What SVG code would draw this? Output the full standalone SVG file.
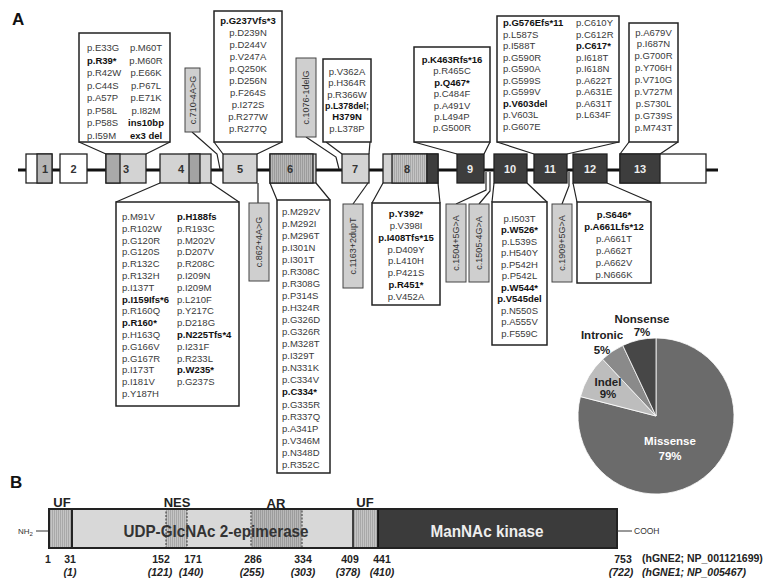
<svg xmlns="http://www.w3.org/2000/svg" width="771" height="585" viewBox="0 0 771 585">
<defs>
<pattern id="hatch" width="2" height="4" patternUnits="userSpaceOnUse"><rect width="2" height="4" fill="#c4c4c4"/><rect width="1" height="4" fill="#a8a8a8"/></pattern>
<pattern id="hatch2" width="2" height="4" patternUnits="userSpaceOnUse"><rect width="2" height="4" fill="#b8b8b8"/><rect width="1" height="4" fill="#9c9c9c"/></pattern>
</defs>
<style>
text{font-family:"Liberation Sans",Arial,sans-serif}
.t{font-size:9.5px;fill:#3a3a3a}
.b{font-size:9.5px;fill:#111;font-weight:bold}
.m{text-anchor:middle}
.box{fill:#fff;stroke:#222;stroke-width:1.5}
.lab{fill:#cfcfcf;stroke:#444;stroke-width:1}
.lt{font-size:9px;fill:#333;text-anchor:middle}
.con{fill:none;stroke:#222;stroke-width:1.2}
.ex{stroke:#222;stroke-width:1.3}
.en{font-size:11px;font-weight:bold;text-anchor:middle;fill:#333}
.enw{fill:#eee}
.pl{font-size:11.5px;font-weight:bold;text-anchor:middle;fill:#222}
.num{font-size:10.5px;font-weight:bold;fill:#222;text-anchor:middle}
.it{font-style:italic}
.lbl{font-size:13px;font-weight:bold;fill:#222;text-anchor:middle}
</style>
<rect width="771" height="585" fill="#fff"/>
<text x="12" y="25" font-size="17" font-weight="bold" fill="#111">A</text>
<text x="10" y="488" font-size="17" font-weight="bold" fill="#111">B</text>

<g id="gene">
<line x1="18" y1="170" x2="718" y2="170" stroke="#111" stroke-width="3"/>
<rect class="ex" x="26" y="154" width="26" height="29" fill="#fff"/>
<rect class="ex" x="37" y="154" width="15" height="29" fill="#b5b5b5"/>
<text class="en" x="45" y="172.5">1</text>
<rect class="ex" x="60" y="154" width="27" height="29" fill="#fff"/>
<text class="en" x="73.5" y="172.5">2</text>
<rect class="ex" x="106" y="154" width="40" height="29" fill="#d3d3d3"/>
<rect class="ex" x="106" y="154" width="14" height="29" fill="#a9a9a9"/>
<text class="en" x="126" y="172.5">3</text>
<rect class="ex" x="160" y="154" width="51" height="29" fill="#d3d3d3"/>
<rect class="ex" x="189" y="154" width="11" height="29" fill="#a3a3a3"/>
<text class="en" x="181" y="172.5">4</text>
<rect class="ex" x="223" y="154" width="34" height="29" fill="#d3d3d3"/>
<text class="en" x="240" y="172.5">5</text>
<rect class="ex" x="270" y="154" width="46" height="29" fill="#d3d3d3"/>
<rect class="ex" x="270" y="154" width="43" height="29" fill="url(#hatch2)"/>
<text class="en" x="290" y="172.5">6</text>
<rect class="ex" x="342" y="154" width="27" height="29" fill="#d3d3d3"/>
<text class="en" x="355" y="172.5">7</text>
<rect class="ex" x="383" y="154" width="55" height="29" fill="#d3d3d3"/>
<rect class="ex" x="392" y="154" width="35" height="29" fill="url(#hatch)"/>
<rect class="ex" x="427" y="154" width="11" height="29" fill="#3d3d3d"/>
<text class="en" x="407" y="172.5">8</text>
<rect class="ex" x="457" y="154" width="27" height="29" fill="#3d3d3d"/>
<text class="en enw" x="470" y="172.5">9</text>
<rect class="ex" x="494" y="154" width="33" height="29" fill="#3d3d3d"/>
<text class="en enw" x="510" y="172.5">10</text>
<rect class="ex" x="534" y="154" width="33" height="29" fill="#3d3d3d"/>
<text class="en enw" x="550" y="172.5">11</text>
<rect class="ex" x="573" y="154" width="34" height="29" fill="#3d3d3d"/>
<text class="en enw" x="590" y="172.5">12</text>
<rect class="ex" x="620" y="154" width="86" height="29" fill="#fff"/>
<rect class="ex" x="620" y="154" width="40" height="29" fill="#3d3d3d"/>
<text class="en enw" x="640" y="172.5">13</text>
</g>

<g id="connectors">
<path class="con" d="M79,142 L106,154 M170,142 L146,154"/>
<path class="con" d="M214,142 L223,154 M282,142 L257,154"/>
<path class="con" d="M326,142 L342,154 M370,142 L369,154"/>
<path class="con" d="M414,142 L457,154 M490,142 L484,154"/>
<path class="con" d="M497,142 L534,154 M619,142 L567,154"/>
<path class="con" d="M629,142 L620,154 M678,142 L660,154"/>
<polyline class="con" points="192,132 217,154 220,169"/>
<polyline class="con" points="306,137 336,157 339,169"/>
<path class="con" d="M116,202 L160,183 M239,202 L211,183"/>
<path class="con" d="M258,183 L258,203"/>
<path class="con" d="M277,200 L270,183 M330,200 L316,183"/>
<path class="con" d="M353,204 L368,183"/>
<path class="con" d="M372,203 L383,183 M440,203 L438,183"/>
<polyline class="con" points="456,204 486,190 486,172"/>
<polyline class="con" points="479,204 490,191 490,172"/>
<path class="con" d="M492,202 L494,183 M547,202 L527,183"/>
<polyline class="con" points="562,204 569,186 569,172"/>
<path class="con" d="M577,202 L573,183 M651,202 L607,183"/>
</g>

<g id="box-ex3">
<rect class="box" x="79" y="33" width="91" height="109"/>
<text class="t" x="87" y="51">p.E33G</text>
<text class="b" x="87" y="63.5">p.R39*</text>
<text class="t" x="87" y="76">p.R42W</text>
<text class="t" x="87" y="88.5">p.C44S</text>
<text class="t" x="87" y="101">p.A57P</text>
<text class="t" x="87" y="113.5">p.P58L</text>
<text class="t" x="87" y="126">p.P58S</text>
<text class="t" x="87" y="138.5">p.I59M</text>
<text class="t m" x="146" y="51">p.M60T</text>
<text class="t m" x="146" y="63.5">p.M60R</text>
<text class="t m" x="146" y="76">p.E66K</text>
<text class="t m" x="146" y="88.5">p.P67L</text>
<text class="t m" x="146" y="101">p.E71K</text>
<text class="t m" x="146" y="113.5">p.I82M</text>
<text class="b m" x="146" y="126">ins10bp</text>
<text class="b m" x="146" y="138.5">ex3 del</text>
</g>

<g id="label-c710">
<rect class="lab" x="185" y="68" width="15" height="64"/>
<text class="lt" transform="translate(192.5,100) rotate(-90)" y="3">c.710-4A&gt;G</text>
</g>

<g id="box-ex5">
<rect class="box" x="214" y="11" width="68" height="131"/>
<text class="b m" x="248" y="23.5">p.G237Vfs*3</text>
<text class="t m" x="248" y="35.5">p.D239N</text>
<text class="t m" x="248" y="47.5">p.D244V</text>
<text class="t m" x="248" y="59.5">p.V247A</text>
<text class="t m" x="248" y="71.5">p.Q250K</text>
<text class="t m" x="248" y="83.5">p.D256N</text>
<text class="t m" x="248" y="95.5">p.F264S</text>
<text class="t m" x="248" y="107.5">p.I272S</text>
<text class="t m" x="248" y="119.5">p.R277W</text>
<text class="t m" x="248" y="131.5">p.R277Q</text>
</g>

<g id="label-c1076">
<rect class="lab" x="296" y="58" width="20" height="79"/>
<text class="lt" transform="translate(306,97.5) rotate(-90)" y="3">c.1076-1delG</text>
</g>

<g id="box-ex7">
<rect class="box" x="323" y="59" width="48" height="83"/>
<text class="t m" x="347" y="74.5">p.V362A</text>
<text class="t m" x="347" y="86">p.H364R</text>
<text class="t m" x="347" y="97.5">p.R366W</text>
<text class="b m" x="347" y="109" textLength="44" lengthAdjust="spacingAndGlyphs">p.L378del;</text>
<text class="b m" x="347" y="120">H379N</text>
<text class="t m" x="347" y="131.5">p.L378P</text>
</g>

<g id="box-ex9">
<rect class="box" x="414" y="47" width="76" height="95"/>
<text class="b m" x="452" y="63">p.K463Rfs*16</text>
<text class="t m" x="452" y="74.4">p.R465C</text>
<text class="b m" x="452" y="85.8">p.Q467*</text>
<text class="t m" x="452" y="97.2">p.C484F</text>
<text class="t m" x="452" y="108.6">p.A491V</text>
<text class="t m" x="452" y="120">p.L494P</text>
<text class="t m" x="452" y="131.4">p.G500R</text>
</g>

<g id="box-ex11">
<rect class="box" x="497" y="16" width="122" height="126"/>
<text class="b" x="503" y="26">p.G576Efs*11</text>
<text class="t" x="503" y="37.5">p.L587S</text>
<text class="t" x="503" y="49">p.I588T</text>
<text class="t" x="503" y="60.5">p.G590R</text>
<text class="t" x="503" y="72">p.G590A</text>
<text class="t" x="503" y="83.5">p.G599S</text>
<text class="t" x="503" y="95">p.G599V</text>
<text class="b" x="503" y="106.5">p.V603del</text>
<text class="t" x="503" y="118">p.V603L</text>
<text class="t" x="503" y="129.5">p.G607E</text>
<text class="t" x="576" y="26">p.C610Y</text>
<text class="t" x="576" y="37.5">p.C612R</text>
<text class="b" x="576" y="49">p.C617*</text>
<text class="t" x="576" y="60.5">p.I618T</text>
<text class="t" x="576" y="72">p.I618N</text>
<text class="t" x="576" y="83.5">p.A622T</text>
<text class="t" x="576" y="95">p.A631E</text>
<text class="t" x="576" y="106.5">p.A631T</text>
<text class="t" x="576" y="118">p.L634F</text>
</g>

<g id="box-ex13">
<rect class="box" x="629" y="23" width="49" height="119"/>
<text class="t m" x="653.5" y="35.5">p.A679V</text>
<text class="t m" x="653.5" y="47.4">p.I687N</text>
<text class="t m" x="653.5" y="59.3">p.G700R</text>
<text class="t m" x="653.5" y="71.2">p.Y706H</text>
<text class="t m" x="653.5" y="83.1">p.V710G</text>
<text class="t m" x="653.5" y="95">p.V727M</text>
<text class="t m" x="653.5" y="106.9">p.S730L</text>
<text class="t m" x="653.5" y="118.8">p.G739S</text>
<text class="t m" x="653.5" y="130.7">p.M743T</text>
</g>

<g id="box-ex4">
<rect class="box" x="116" y="202" width="123" height="204"/>
<text class="t" x="122" y="220">p.M91V</text>
<text class="t" x="122" y="231.8">p.R102W</text>
<text class="t" x="122" y="243.6">p.G120R</text>
<text class="t" x="122" y="255.4">p.G120S</text>
<text class="t" x="122" y="267.2">p.R132C</text>
<text class="t" x="122" y="279">p.R132H</text>
<text class="t" x="122" y="290.8">p.I137T</text>
<text class="b" x="122" y="302.6">p.I159Ifs*6</text>
<text class="t" x="122" y="314.4">p.R160Q</text>
<text class="b" x="122" y="326.2">p.R160*</text>
<text class="t" x="122" y="338">p.H163Q</text>
<text class="t" x="122" y="349.8">p.G166V</text>
<text class="t" x="122" y="361.6">p.G167R</text>
<text class="t" x="122" y="373.4">p.I173T</text>
<text class="t" x="122" y="385.2">p.I181V</text>
<text class="t" x="122" y="397">p.Y187H</text>
<text class="b" x="177" y="220">p.H188fs</text>
<text class="t" x="177" y="231.8">p.R193C</text>
<text class="t" x="177" y="243.6">p.M202V</text>
<text class="t" x="177" y="255.4">p.D207V</text>
<text class="t" x="177" y="267.2">p.R208C</text>
<text class="t" x="177" y="279">p.I209N</text>
<text class="t" x="177" y="290.8">p.I209M</text>
<text class="t" x="177" y="302.6">p.L210F</text>
<text class="t" x="177" y="314.4">p.Y217C</text>
<text class="t" x="177" y="326.2">p.D218G</text>
<text class="b" x="177" y="338">p.N225Tfs*4</text>
<text class="t" x="177" y="349.8">p.I231F</text>
<text class="t" x="177" y="361.6">p.R233L</text>
<text class="b" x="177" y="373.4">p.W235*</text>
<text class="t" x="177" y="385.2">p.G237S</text>
</g>

<g id="label-c862">
<rect class="lab" x="249" y="203" width="20" height="78"/>
<text class="lt" transform="translate(259,242) rotate(-90)" y="3">c.862+4A&gt;G</text>
</g>

<g id="box-ex6">
<rect class="box" x="277" y="200" width="53" height="273"/>
<text class="t" x="282" y="214.5">p.M292V</text>
<text class="t" x="282" y="226.6">p.M292I</text>
<text class="t" x="282" y="238.6">p.M296T</text>
<text class="t" x="282" y="250.7">p.I301N</text>
<text class="t" x="282" y="262.7">p.I301T</text>
<text class="t" x="282" y="274.8">p.R308C</text>
<text class="t" x="282" y="286.9">p.R308G</text>
<text class="t" x="282" y="298.9">p.P314S</text>
<text class="t" x="282" y="311">p.H324R</text>
<text class="t" x="282" y="323">p.G326D</text>
<text class="t" x="282" y="335.1">p.G326R</text>
<text class="t" x="282" y="347.2">p.M328T</text>
<text class="t" x="282" y="359.2">p.I329T</text>
<text class="t" x="282" y="371.3">p.N331K</text>
<text class="t" x="282" y="383.3">p.C334V</text>
<text class="b" x="282" y="395.4">p.C334*</text>
<text class="t" x="282" y="407.5">p.G335R</text>
<text class="t" x="282" y="419.5">p.R337Q</text>
<text class="t" x="282" y="431.6">p.A341P</text>
<text class="t" x="282" y="443.6">p.V346M</text>
<text class="t" x="282" y="455.7">p.N348D</text>
<text class="t" x="282" y="467.8">p.R352C</text>
</g>

<g id="label-c1163">
<rect class="lab" x="343" y="204" width="20" height="84"/>
<text class="lt" transform="translate(353,246) rotate(-90)" y="3">c.1163+2dupT</text>
</g>

<g id="box-ex8">
<rect class="box" x="372" y="203" width="68" height="102"/>
<text class="b m" x="406" y="216.8">p.Y392*</text>
<text class="t m" x="406" y="228.7">p.V398I</text>
<text class="b m" x="406" y="240.6">p.I408Tfs*15</text>
<text class="t m" x="406" y="252.5">p.D409Y</text>
<text class="t m" x="406" y="264.4">p.L410H</text>
<text class="t m" x="406" y="276.3">p.P421S</text>
<text class="b m" x="406" y="288.2">p.R451*</text>
<text class="t m" x="406" y="300.1">p.V452A</text>
</g>

<g id="label-c1504">
<rect class="lab" x="446" y="204" width="20" height="78"/>
<text class="lt" transform="translate(456,243) rotate(-90)" y="3">c.1504+5G&gt;A</text>
</g>
<g id="label-c1505">
<rect class="lab" x="469" y="204" width="20" height="78"/>
<text class="lt" transform="translate(479,243) rotate(-90)" y="3">c.1505-4G&gt;A</text>
</g>

<g id="box-ex10">
<rect class="box" x="492" y="202" width="55" height="143"/>
<text class="t m" x="519.5" y="221.8">p.I503T</text>
<text class="b m" x="519.5" y="233.3">p.W526*</text>
<text class="t m" x="519.5" y="244.8">p.L539S</text>
<text class="t m" x="519.5" y="256.3">p.H540Y</text>
<text class="t m" x="519.5" y="267.8">p.P542H</text>
<text class="t m" x="519.5" y="279.3">p.P542L</text>
<text class="b m" x="519.5" y="290.8">p.W544*</text>
<text class="b m" x="519.5" y="302.3">p.V545del</text>
<text class="t m" x="519.5" y="313.8">p.N550S</text>
<text class="t m" x="519.5" y="325.3">p.A555V</text>
<text class="t m" x="519.5" y="336.8">p.F559C</text>
</g>

<g id="label-c1909">
<rect class="lab" x="552" y="204" width="20" height="78"/>
<text class="lt" transform="translate(562,243) rotate(-90)" y="3">c.1909+5G&gt;A</text>
</g>

<g id="box-ex12">
<rect class="box" x="577" y="202" width="74" height="81"/>
<text class="b m" x="614" y="217.8">p.S646*</text>
<text class="b m" x="614" y="229.8">p.A661Lfs*12</text>
<text class="t m" x="614" y="241.8">p.A661T</text>
<text class="t m" x="614" y="253.8">p.A662T</text>
<text class="t m" x="614" y="265.8">p.A662V</text>
<text class="t m" x="614" y="277.8">p.N666K</text>
</g>

<g id="pie">
<path d="M656,416 L656,338 A78,78 0 1 1 580.45,396.6 Z" fill="#6b6b6b" stroke="#fff" stroke-width="0.8"/>
<path d="M656,416 L580.45,396.6 A78,78 0 0 1 602.61,359.14 Z" fill="#bdbdbd" stroke="#fff" stroke-width="0.8"/>
<path d="M656,416 L602.61,359.14 A78,78 0 0 1 622.79,345.43 Z" fill="#8a8a8a" stroke="#fff" stroke-width="0.8"/>
<path d="M656,416 L622.79,345.43 A78,78 0 0 1 656,338 Z" fill="#474747" stroke="#fff" stroke-width="0.8"/>
<text class="pl" x="642" y="323">Nonsense</text>
<text class="pl" x="642" y="336">7%</text>
<text class="pl" x="602" y="339">Intronic</text>
<text class="pl" x="602" y="354">5%</text>
<text class="pl" x="608" y="386">Indel</text>
<text class="pl" x="608" y="398">9%</text>
<text class="pl" x="670" y="445" style="fill:#fff">Missense</text>
<text class="pl" x="670" y="460" style="fill:#fff">79%</text>
</g>

<g id="protein">
<line x1="36" y1="531" x2="49" y2="531" stroke="#333" stroke-width="1"/>
<text x="18" y="534" font-size="8" fill="#333">NH<tspan font-size="6" dy="2">2</tspan></text>
<rect x="49" y="509" width="568" height="39" fill="#d8d8d8"/>
<rect x="49" y="509" width="23" height="39" fill="url(#hatch)"/>
<rect x="166" y="509" width="21" height="39" fill="url(#hatch)" stroke="#333" stroke-width="1" stroke-dasharray="2,1.5"/>
<rect x="251" y="509" width="51" height="39" fill="url(#hatch2)" stroke="#333" stroke-width="1" stroke-dasharray="2,1.5"/>
<rect x="353" y="509" width="25" height="39" fill="url(#hatch)"/>
<rect x="378" y="509" width="239" height="39" fill="#3b3b3b"/>
<line x1="72" y1="509" x2="72" y2="548" stroke="#111" stroke-width="1.8"/>
<line x1="353" y1="509" x2="353" y2="548" stroke="#111" stroke-width="1.5"/>
<line x1="378" y1="509" x2="378" y2="548" stroke="#111" stroke-width="1.8"/>
<rect x="49" y="509" width="568" height="39" fill="none" stroke="#222" stroke-width="2"/>
<line x1="617" y1="531" x2="632" y2="531" stroke="#333" stroke-width="1"/>
<text x="634" y="534" font-size="8.5" fill="#333">COOH</text>
<text x="216" y="537" font-size="17" font-weight="bold" fill="#333" text-anchor="middle" textLength="185" lengthAdjust="spacingAndGlyphs">UDP-GlcNAc 2-epimerase</text>
<text x="487" y="537" font-size="16" font-weight="bold" fill="#eee" text-anchor="middle" textLength="113" lengthAdjust="spacingAndGlyphs">ManNAc kinase</text>
<text class="lbl" x="62" y="507">UF</text>
<text class="lbl" x="177" y="507">NES</text>
<text class="lbl" x="276" y="508">AR</text>
<text class="lbl" x="365" y="507">UF</text>
<text class="num" x="48" y="563">1</text>
<text class="num" x="70" y="563">31</text>
<text class="num" x="161" y="563">152</text>
<text class="num" x="193" y="563">171</text>
<text class="num" x="253" y="563">286</text>
<text class="num" x="303" y="563">334</text>
<text class="num" x="350" y="563">409</text>
<text class="num" x="382" y="563">441</text>
<text class="num" x="623" y="563">753</text>
<text class="num it" x="70" y="576">(1)</text>
<text class="num it" x="160" y="576">(121)</text>
<text class="num it" x="191" y="576">(140)</text>
<text class="num it" x="252" y="576">(255)</text>
<text class="num it" x="303" y="576">(303)</text>
<text class="num it" x="348" y="576">(378)</text>
<text class="num it" x="382" y="576">(410)</text>
<text class="num it" x="621" y="576">(722)</text>
<text class="num" x="642" y="562" style="text-anchor:start">(hGNE2; NP_001121699)</text>
<text class="num it" x="642" y="576" style="text-anchor:start">(hGNE1; NP_005467)</text>
</g>
</svg>
